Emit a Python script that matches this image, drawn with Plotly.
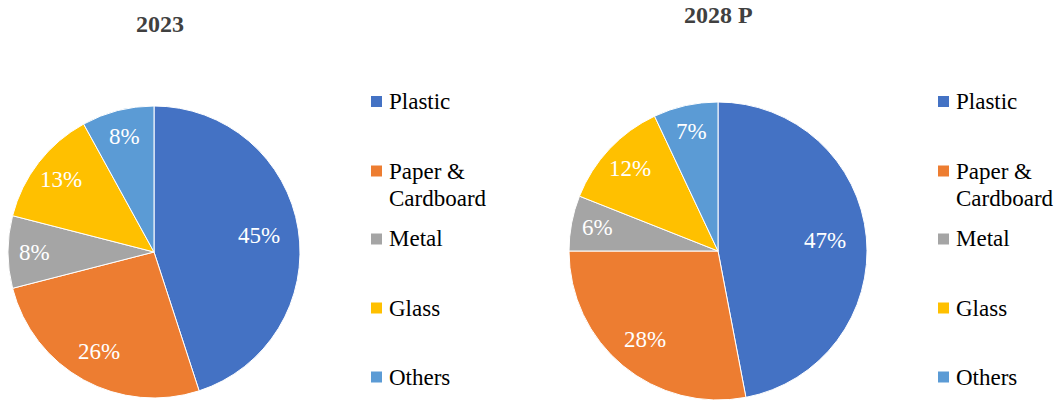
import math
import plotly.graph_objects as go

# Packaging material shares (%)
materials = ["Plastic", "Paper & Cardboard", "Metal", "Glass", "Others"]
share_2023 = [45, 26, 8, 13, 8]
share_2028 = [47, 28, 6, 12, 7]
titles = ["2023", "2028 P"]
colors = ["#4472C4", "#ED7D31", "#A5A5A5", "#FFC000", "#5B9BD5"]
legend_lines = [["Plastic"], ["Paper &", "Cardboard"], ["Metal"], ["Glass"], ["Others"]]

W, H = 1061, 401
SERIF = "Liberation Serif"


def px_x(x):
    return x / W


def px_y(y):
    return 1 - y / H


fig = go.Figure()
annotations = []
shapes = []

# pie placement in pixels: (left, right, top, bottom)
pie_boxes = [(8, 300, 106, 398), (569, 867, 102, 400)]
for vals, (l, r, t, b) in zip([share_2023, share_2028], pie_boxes):
    fig.add_trace(go.Pie(
        labels=materials,
        values=vals,
        sort=False,
        direction="clockwise",
        rotation=0,
        marker=dict(colors=colors, line=dict(color="white", width=1)),
        textinfo="none",
        hoverinfo="label+value",
        showlegend=False,
        domain=dict(x=[px_x(l), px_x(r)], y=[px_y(b), px_y(t)]),
    ))

    # percentage labels at each slice's mid-angle (clockwise from 12 o'clock)
    cx, cy, rad = (l + r) / 2, (t + b) / 2, (r - l) / 2
    total = sum(vals)
    start = 0.0
    for v in vals:
        mid = (start + v / 2) / total * 2 * math.pi
        start += v
        k = 0.84 - 0.0025 * v
        annotations.append(dict(
            text=f"{v}%",
            x=px_x(cx + k * rad * math.sin(mid)),
            y=px_y(cy - k * rad * math.cos(mid)),
            xref="paper", yref="paper", xanchor="center", yanchor="middle",
            showarrow=False,
            font=dict(family=SERIF, size=23, color="white"),
        ))

# chart titles
for text, cx, cy in zip(titles, [160, 718], [24, 15]):
    annotations.append(dict(
        text=f"<b>{text}</b>", x=px_x(cx), y=px_y(cy), xref="paper", yref="paper",
        xanchor="center", yanchor="middle", showarrow=False,
        font=dict(family=SERIF, size=24, color="#404040"),
    ))

# legends beside each pie
legend_rows = [101.5, 171, 239, 308, 377]
for sq_x, txt_x in [(371, 387), (938, 954)]:
    for color, lines, cy in zip(colors, legend_lines, legend_rows):
        shapes.append(dict(
            type="rect", xref="paper", yref="paper",
            x0=px_x(sq_x), x1=px_x(sq_x + 11),
            y0=px_y(cy + 5.5), y1=px_y(cy - 5.5),
            fillcolor=color, line=dict(width=0),
        ))
        for i, line in enumerate(lines):
            annotations.append(dict(
                text=line, x=px_x(txt_x), y=px_y(cy + 27 * i),
                xref="paper", yref="paper", xanchor="left", yanchor="middle",
                showarrow=False,
                font=dict(family=SERIF, size=23, color="#000000"),
            ))

fig.update_layout(
    width=W, height=H,
    margin=dict(l=0, r=0, t=0, b=0),
    paper_bgcolor="white",
    plot_bgcolor="white",
    annotations=annotations,
    shapes=shapes,
)

fig.write_html("out.html")
